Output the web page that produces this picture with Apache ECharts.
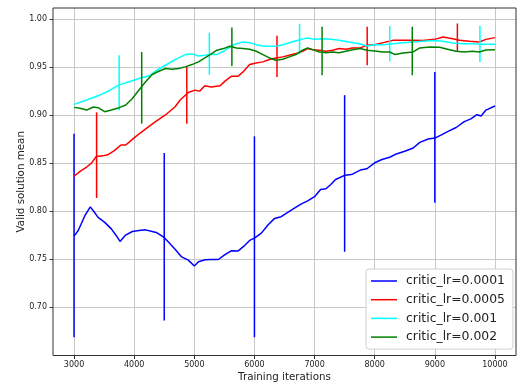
<!DOCTYPE html>
<html>
<head>
<meta charset="utf-8">
<script src="https://cdn.jsdelivr.net/npm/echarts@6/dist/echarts.min.js"></script>
<style>
html,body{margin:0;padding:0;background:#fff;}
#chart{width:517px;height:387px;}
</style>
</head>
<body>
<div id="chart"></div>
<script>
// ---- data ----
const seriesNames = ['critic_lr=0.0001', 'critic_lr=0.0005', 'critic_lr=0.001', 'critic_lr=0.002'];
const seriesColors = ['#0000ff', '#ff0000', '#00ffff', '#008000'];

const blueX = [3000,3070,3180,3270,3320,3400,3510,3620,3700,3765,3850,3970,4080,4190,4300,4380,4490,4570,4680,4790,4900,5000,5070,5180,5280,5400,5510,5620,5730,5840,5920,6000,6115,6225,6335,6445,6555,6665,6775,6885,7000,7100,7190,7270,7350,7490,7630,7760,7870,8000,8120,8250,8360,8500,8640,8750,8890,9000,9110,9220,9355,9490,9600,9700,9770,9850,10000];
const blueY = [0.7741,0.7799,0.7953,0.8045,0.8004,0.7936,0.7884,0.7816,0.7748,0.7686,0.7748,0.7789,0.7799,0.7806,0.7789,0.7775,0.7731,0.7679,0.7604,0.7525,0.7491,0.7430,0.7474,0.7495,0.7498,0.7498,0.7549,0.7590,0.7587,0.7645,0.7696,0.7720,0.7772,0.7857,0.7925,0.7943,0.7987,0.8032,0.8073,0.8107,0.8151,0.8226,0.8233,0.8278,0.8329,0.8370,0.8385,0.8427,0.8441,0.8503,0.8537,0.8561,0.8595,0.8623,0.8657,0.8715,0.8750,0.8760,0.8794,0.8829,0.8870,0.8931,0.8959,0.9003,0.8990,0.9051,0.9093];

const redX = [3000,3100,3210,3290,3370,3480,3560,3670,3780,3860,3970,4055,4165,4190,4355,4520,4680,4765,4900,5010,5090,5175,5280,5430,5510,5620,5730,5810,5920,6030,6140,6250,6360,6470,6580,6690,6800,6885,6970,7080,7190,7300,7410,7520,7630,7760,7870,8000,8140,8310,8470,8640,8800,9000,9135,9300,9410,9575,9740,9850,10000];
const redY = [0.8363,0.8414,0.8459,0.8500,0.8568,0.8575,0.8586,0.8630,0.8688,0.8688,0.8746,0.8790,0.8842,0.8862,0.8931,0.9000,0.9086,0.9155,0.9234,0.9258,0.9248,0.9303,0.9290,0.9303,0.9352,0.9403,0.9403,0.9448,0.9524,0.9541,0.9552,0.9576,0.9593,0.9604,0.9621,0.9638,0.9662,0.9690,0.9679,0.9673,0.9662,0.9673,0.9690,0.9683,0.9697,0.9697,0.9724,0.9731,0.9752,0.9776,0.9776,0.9776,0.9773,0.9786,0.9810,0.9793,0.9776,0.9766,0.9759,0.9786,0.9804];

const cyanX = [3000,3210,3430,3590,3740,3920,4080,4250,4380,4520,4680,4850,4960,5070,5175,5264,5375,5485,5590,5700,5810,5920,6030,6140,6280,6390,6530,6665,6775,6885,7000,7130,7270,7410,7570,7740,7870,8000,8140,8310,8470,8640,8800,9000,9135,9300,9465,9630,9800,10000];
const cyanY = [0.9110,0.9155,0.9207,0.9255,0.9310,0.9345,0.9380,0.9407,0.9466,0.9517,0.9576,0.9628,0.9635,0.9614,0.9620,0.9630,0.9628,0.9662,0.9707,0.9741,0.9759,0.9752,0.9731,0.9717,0.9714,0.9717,0.9741,0.9766,0.9786,0.9800,0.9786,0.9793,0.9786,0.9776,0.9759,0.9741,0.9717,0.9731,0.9731,0.9741,0.9752,0.9759,0.9766,0.9773,0.9766,0.9748,0.9741,0.9741,0.9735,0.9735];

const greenX = [3000,3100,3210,3320,3400,3510,3620,3750,3860,3970,4080,4190,4300,4410,4520,4630,4740,4850,4960,5070,5175,5264,5375,5485,5590,5700,5810,5920,6030,6140,6250,6360,6470,6580,6690,6800,6885,6970,7080,7190,7300,7410,7520,7630,7760,7870,8000,8140,8250,8340,8470,8640,8750,8915,9080,9245,9355,9490,9630,9740,9850,10000];
const greenY = [0.9079,0.9069,0.9051,0.9083,0.9076,0.9034,0.9051,0.9076,0.9103,0.9172,0.9259,0.9345,0.9421,0.9455,0.9483,0.9476,0.9483,0.9500,0.9524,0.9552,0.9593,0.9628,0.9673,0.9690,0.9714,0.9697,0.9690,0.9683,0.9662,0.9628,0.9593,0.9569,0.9579,0.9604,0.9628,0.9673,0.9697,0.9679,0.9655,0.9648,0.9655,0.9648,0.9662,0.9679,0.9690,0.9673,0.9666,0.9655,0.9655,0.9628,0.9645,0.9655,0.9697,0.9707,0.9704,0.9679,0.9662,0.9655,0.9662,0.9655,0.9676,0.9679];

// error bars: x position, low, high
const blueErrX = [3000,4500,6000,7500,9000];
const blueErrLow = [0.669,0.6864,0.669,0.7578,0.8088];
const blueErrHigh = [0.8806,0.8606,0.8778,0.9206,0.9447];

const redErrX = [3375,4875,6375,7875,9375];
const redErrLow = [0.8137,0.891,0.9395,0.9517,0.9654];
const redErrHigh = [0.9027,0.950,0.9824,0.9917,0.9951];

const cyanErrX = [3750,5250,6750,8250,9750];
const cyanErrLow = [0.905,0.942,0.963,0.9558,0.955];
const cyanErrHigh = [0.962,0.9855,0.9948,0.9924,0.9927];

const greenErrX = [4125,5625,7125,8625];
const greenErrLow = [0.891,0.951,0.9413,0.9413];
const greenErrHigh = [0.9654,0.991,0.9917,0.9917];

const xTicks = [3000,4000,5000,6000,7000,8000,9000,10000];
const yTicks = [0.70,0.75,0.80,0.85,0.90,0.95,1.00];

// ---- build ----
const lines = [[blueX,blueY],[redX,redY],[cyanX,cyanY],[greenX,greenY]];
const errs = [[blueErrX,blueErrLow,blueErrHigh],[redErrX,redErrLow,redErrHigh],[cyanErrX,cyanErrLow,cyanErrHigh],[greenErrX,greenErrLow,greenErrHigh]];
const FONT = 'DejaVu Sans';
const series = [];
// vertical grid lines at x ticks (placed through the x scale)
series.push({
  name: 'xgrid', type: 'line', data: [], z: 0, silent: true,
  markLine: {
    silent: true, z: 0, symbol: ['none', 'none'], label: {show: false}, animation: false,
    lineStyle: {color: '#c8c8c8', width: 1, type: 'solid'},
    emphasis: {disabled: true},
    data: xTicks.map(v => ({xAxis: v}))
  }
});
lines.forEach((l, i) => {
  series.push({
    name: seriesNames[i], type: 'line', symbol: 'none', showSymbol: false, smooth: false,
    data: l[0].map((x, k) => [x, l[1][k]]),
    lineStyle: {color: seriesColors[i], width: 1.5},
    itemStyle: {color: seriesColors[i]},
    z: 2 + i*2
  });
  const e = errs[i];
  series.push({
    name: 'err' + i, type: 'custom',
    data: e[0].map((x, k) => [x, e[1][k], e[2][k]]),
    encode: {x: 0, y: [1, 2]},
    z: 3 + i*2,
    renderItem: (params, api) => {
      const p1 = api.coord([api.value(0), api.value(1)]);
      const p2 = api.coord([api.value(0), api.value(2)]);
      return {type: 'line', shape: {x1: p1[0], y1: p1[1], x2: p2[0], y2: p2[1]},
              style: {stroke: seriesColors[i], lineWidth: 1.5}};
    }
  });
});

const chart = echarts.init(document.getElementById('chart'), null, {renderer: 'canvas'});
chart.setOption({
  animation: false,
  backgroundColor: '#fff',
  grid: {left: 53, right: 1, top: 8, bottom: 31, show: true, borderColor: '#333', borderWidth: 1, backgroundColor: 'transparent', z: 10},
  xAxis: {
    type: 'value', min: 2650, max: 10350,
    name: 'Training iterations', nameLocation: 'middle', nameGap: 16.5, nameMoveOverlap: false,
    nameTextStyle: {fontFamily: FONT, fontSize: 10.3, color: '#222'},
    axisLine: {show: false},
    axisTick: {show: true, length: 3.5, lineStyle: {color: '#333'}, customValues: xTicks},
    axisLabel: {fontFamily: FONT, fontSize: 8, color: '#222', margin: 5, customValues: xTicks,
      formatter: v => String(Math.round(v))},
    splitLine: {show: false}
  },
  yAxis: {
    type: 'value', min: 0.65, max: 1.0112, interval: 0.05,
    name: 'Valid solution mean', nameLocation: 'middle', nameGap: 27, nameMoveOverlap: false,
    nameTextStyle: {fontFamily: FONT, fontSize: 10.3, color: '#222'},
    axisLine: {show: false},
    axisTick: {show: true, length: 3.5, lineStyle: {color: '#333'}, customValues: yTicks},
    axisLabel: {fontFamily: FONT, fontSize: 8, color: '#222', margin: 6, customValues: yTicks,
      formatter: v => v.toFixed(2)},
    splitLine: {show: true, lineStyle: {color: '#c8c8c8', width: 1}}
  },
  legend: {
    data: seriesNames, orient: 'vertical', left: 366, top: 269,
    icon: 'rect',
    backgroundColor: '#fff', borderColor: '#d0d0d0', borderWidth: 1, borderRadius: 3,
    padding: [5, 8, 5, 5], itemWidth: 26, itemHeight: 1.5, itemGap: 4.7,
    textStyle: {fontFamily: FONT, fontSize: 12.4, color: '#222', lineHeight: 14, padding: [0, 0, 0, 4]}
  },
  series: series
});
</script>
</body>
</html>
